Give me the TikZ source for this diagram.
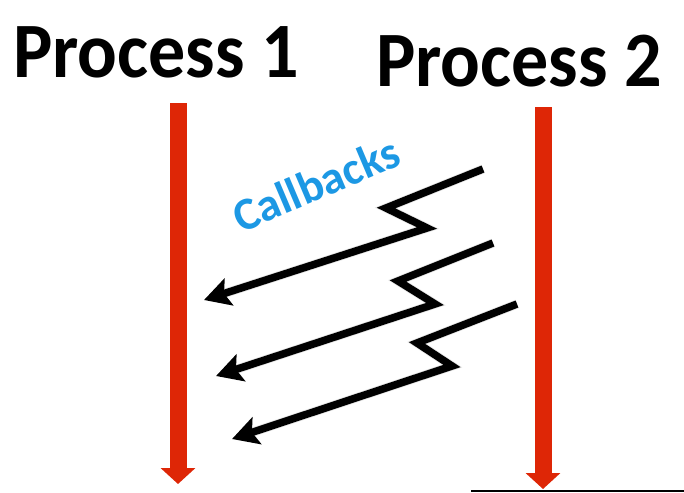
\documentclass[tikz,border=0pt]{standalone}
\usepackage{fontspec}
\setmainfont{Carlito}
\usetikzlibrary{arrows.meta,calc}
\definecolor{timered}{RGB}{222,38,6}
\definecolor{cbblue}{RGB}{28,152,228}
\tikzset{
  title/.style={font=\fontsize{74}{78}\selectfont\bfseries, inner sep=0pt, anchor=base west, yscale=1.06},
  timeline/.style={draw=timered, line width=17pt, -{Triangle[length=16pt,width=34pt]}},
  callback/.style={draw=black, line width=7.5pt, line join=miter, -{Stealth[length=26pt,width=28pt,inset=5pt]}},
  cbshadow/.style={draw=black!30, opacity=0.35, line width=9pt, line join=miter},
}
\begin{document}
\begin{tikzpicture}[x=1pt,y=-1pt]
\useasboundingbox (0,0) rectangle (684,492);
\fill[white] (0,0) rectangle (684,492);
% titles
\node[title] (p1) at (13,78) {Process 1};
\node[title] (p2) at (376,87) {Process 2};
% timelines
\coordinate (t1s) at (178,103);
\coordinate (t1e) at (178,484);
\coordinate (t2s) at (543,107);
\coordinate (t2e) at (543,489);
\draw[timeline] (t1s) -- (t1e);
\draw[timeline] (t2s) -- (t2e);
% callbacks label
\node[font=\fontsize{46}{48}\selectfont\bfseries, text=cbblue, rotate=23, inner sep=0pt] (cb) at (316,184) {Callbacks};
% callback arrows
\coordinate (a1) at (483,169); \coordinate (b1) at (386,208); \coordinate (c1) at (427,228); \coordinate (d1) at (204,300);
\coordinate (a2) at (493,243); \coordinate (b2) at (398,281); \coordinate (c2) at (435,304); \coordinate (d2) at (216,376);
\coordinate (a3) at (517,304); \coordinate (b3) at (417,343); \coordinate (c3) at (452,366); \coordinate (d3) at (232,439);
\foreach \i in {1,2,3}{
  \draw[cbshadow, shift={(3,4)}] (a\i) -- (b\i) -- (c\i) -- ($(d\i)!0.05!(c\i)$);
}
\foreach \i in {1,2,3}{
  \draw[callback] (a\i) -- (b\i) -- (c\i) -- (d\i);
}
% bottom edge line
\coordinate (e1) at (471,491);
\coordinate (e2) at (684,491);
\draw[line width=2pt] (e1) -- (e2);
\end{tikzpicture}
\end{document}
